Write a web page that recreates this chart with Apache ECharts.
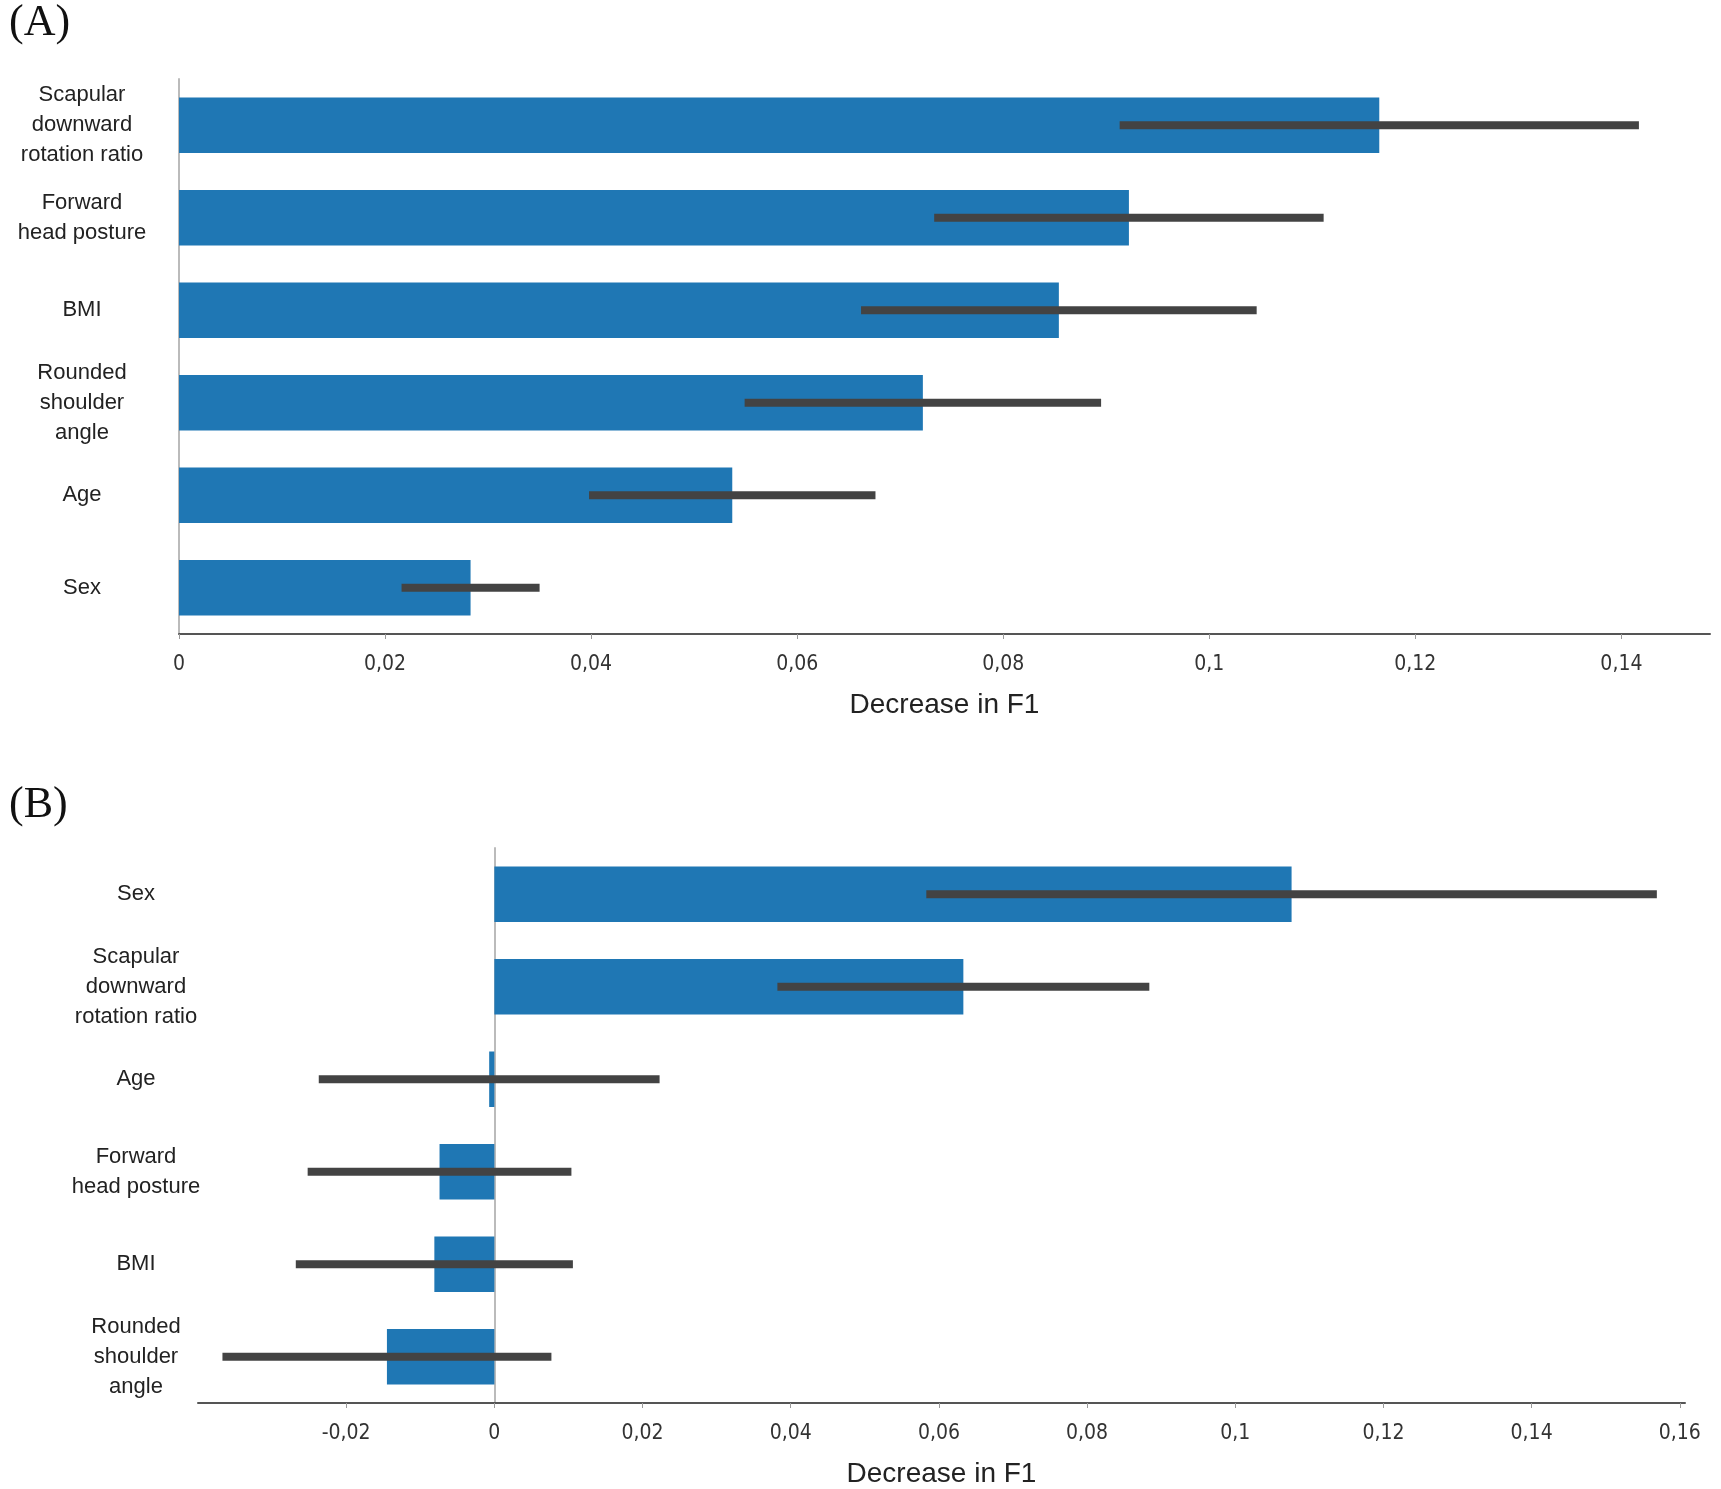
<!DOCTYPE html>
<html><head><meta charset="utf-8">
<script src="https://cdn.jsdelivr.net/npm/echarts@6/dist/echarts.min.js"></script>
<style>html,body{margin:0;padding:0;background:#fff}#c{width:1721px;height:1489px}</style>
</head><body><div id="c"></div>
<script>
// Panel A
const catsA = ['Scapular\ndownward\nrotation ratio', 'Forward\nhead posture', 'BMI', 'Rounded\nshoulder\nangle', 'Age', 'Sex'];
const valA = [0.1165, 0.0922, 0.0854, 0.0722, 0.0537, 0.0283];
const errA = [0.0252, 0.0189, 0.0192, 0.0173, 0.0139, 0.0067];
const ticksA = [0, 0.02, 0.04, 0.06, 0.08, 0.1, 0.12, 0.14];
// Panel B
const catsB = ['Sex', 'Scapular\ndownward\nrotation ratio', 'Age', 'Forward\nhead posture', 'BMI', 'Rounded\nshoulder\nangle'];
const valB = [0.1076, 0.0633, -0.0007, -0.0074, -0.0081, -0.0145];
const errB = [0.0493, 0.0251, 0.0230, 0.0178, 0.0187, 0.0222];
const ticksB = [-0.02, 0, 0.02, 0.04, 0.06, 0.08, 0.1, 0.12, 0.14, 0.16];

const fmt = v => {
  const r = Math.round(v * 100) / 100;
  return String(r).replace('.', ',');
};
const tickFont = '"Liberation Sans Narrow", "DejaVu Sans Condensed", "Liberation Sans", sans-serif';
const sans = '"Liberation Sans", Arial, sans-serif';

function xAxisFor(gi, min, max, ticks) {
  return {
    type: 'value', gridIndex: gi, min: min, max: max,
    name: 'Decrease in F1', nameLocation: 'middle', nameGap: 57,
    nameTextStyle: { fontFamily: sans, fontSize: 28, color: '#222' },
    splitLine: { show: false },
    axisLine: { show: true, onZero: false, lineStyle: { color: '#555', width: 2 } },
    axisTick: { show: true, length: 5, lineStyle: { color: '#999' }, customValues: ticks },
    axisLabel: { customValues: ticks, formatter: fmt, margin: 20, fontFamily: tickFont, fontSize: 21, color: '#333' }
  };
}
function yAxisFor(gi, cats, margin) {
  return {
    type: 'category', gridIndex: gi, data: cats, inverse: true,
    axisLine: { show: true, onZero: true, lineStyle: { color: '#bbb', width: 2 } },
    axisTick: { show: false },
    axisLabel: { align: 'center', margin: margin, fontFamily: sans, fontSize: 22, lineHeight: 30, color: '#222' }
  };
}
function errSeries(xi, yi, vals, errs) {
  return {
    type: 'custom', xAxisIndex: xi, yAxisIndex: yi,
    data: vals.map((v, i) => [v - errs[i], v + errs[i], i]),
    encode: { x: [0, 1], y: 2 },
    z: 5,
    renderItem: (params, api) => {
      const p1 = api.coord([api.value(0), api.value(2)]);
      const p2 = api.coord([api.value(1), api.value(2)]);
      return { type: 'line', shape: { x1: p1[0], y1: p1[1], x2: p2[0], y2: p2[1] },
               style: { stroke: '#434343', lineWidth: 8, lineCap: 'butt' } };
    }
  };
}

const chart = echarts.init(document.getElementById('c'), null, { renderer: 'canvas' });
chart.setOption({
  animation: false,
  backgroundColor: '#fff',
  title: [
    { text: '(A)', left: 4, top: -4, textStyle: { fontFamily: '"Liberation Serif", "DejaVu Serif", serif', fontSize: 44, fontWeight: 'normal', color: '#111' } },
    { text: '(B)', left: 4, top: 778, textStyle: { fontFamily: '"Liberation Serif", "DejaVu Serif", serif', fontSize: 44, fontWeight: 'normal', color: '#111' } }
  ],
  grid: [
    { left: 179, right: 11, top: 79, height: 555, containLabel: false, outerBoundsMode: 'none' },
    { left: 198, right: 36, top: 848, height: 555, containLabel: false, outerBoundsMode: 'none' }
  ],
  xAxis: [ xAxisFor(0, 0, 0.1486, ticksA), xAxisFor(1, -0.04, 0.1607, ticksB) ],
  yAxis: [ yAxisFor(0, catsA, 97), yAxisFor(1, catsB, 62) ],
  series: [
    { type: 'bar', xAxisIndex: 0, yAxisIndex: 0, data: valA, barWidth: '60%', itemStyle: { color: '#1f77b4' } },
    errSeries(0, 0, valA, errA),
    { type: 'bar', xAxisIndex: 1, yAxisIndex: 1, data: valB, barWidth: '60%', itemStyle: { color: '#1f77b4' } },
    errSeries(1, 1, valB, errB)
  ]
});
</script></body></html>
